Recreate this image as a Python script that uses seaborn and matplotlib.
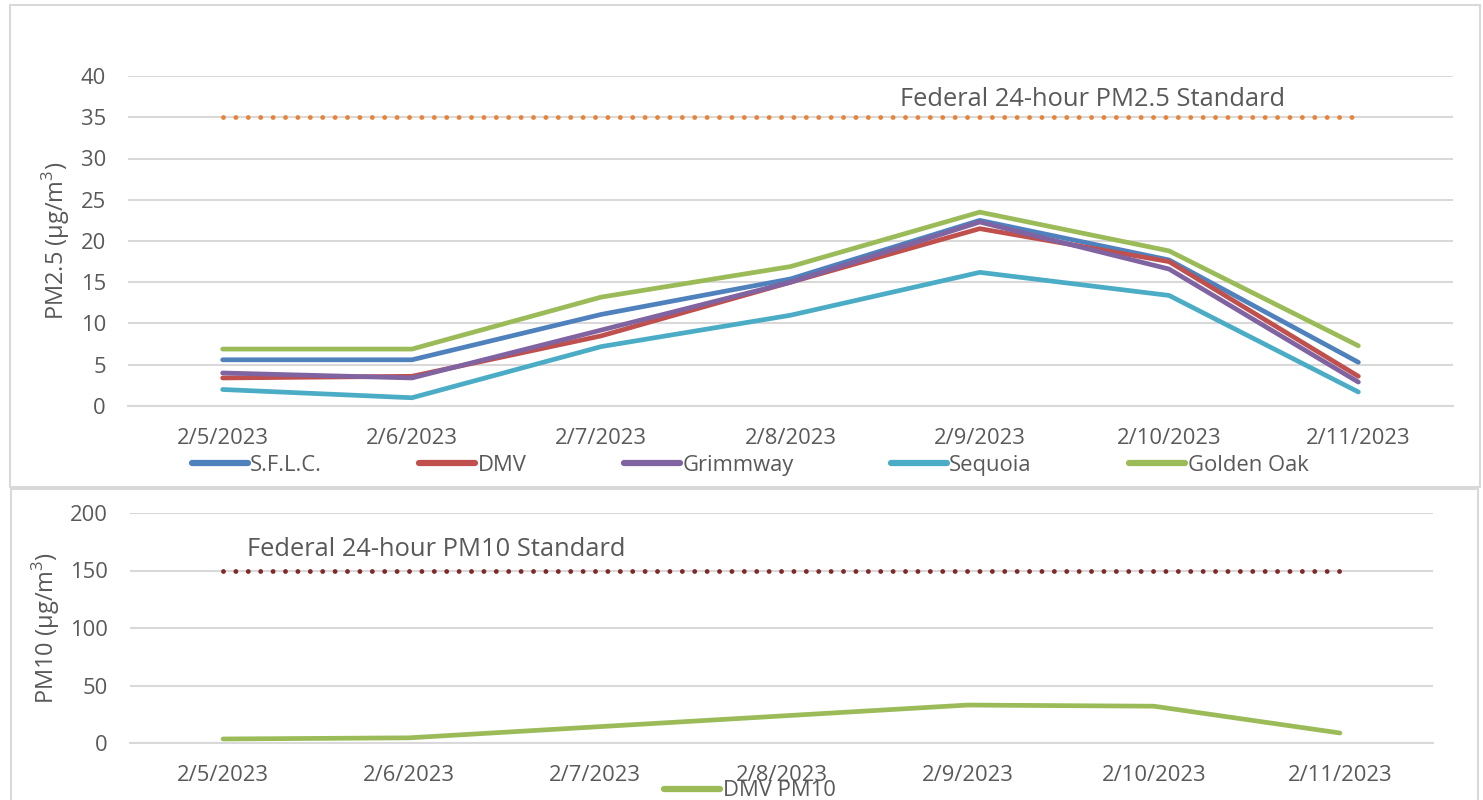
import matplotlib
matplotlib.use('Agg')
import matplotlib.pyplot as plt
import numpy as np
import pandas as pd
import seaborn as sns
from matplotlib.lines import Line2D
from matplotlib.patches import Rectangle

DATES = ['2/5/2023', '2/6/2023', '2/7/2023', '2/8/2023', '2/9/2023', '2/10/2023', '2/11/2023']
SITES = ['S.F.L.C.', 'DMV', 'Grimmway', 'Sequoia', 'Golden Oak']
SFLC = [5.6, 5.6, 11.1, 15.4, 22.5, 17.7, 5.3]
DMV = [3.4, 3.6, 8.5, 15.0, 21.5, 17.5, 3.6]
GRIMMWAY = [4.0, 3.4, 9.2, 15.0, 22.3, 16.6, 2.9]
SEQUOIA = [2.0, 1.0, 7.2, 11.0, 16.2, 13.4, 1.7]
GOLDEN_OAK = [6.9, 6.9, 13.2, 16.9, 23.5, 18.8, 7.3]
DMV_PM10 = [3.5, 4.5, 14.0, 23.5, 33.0, 32.0, 8.7]
PM25_STANDARD = 35
PM10_STANDARD = 150
PM25_TICKS = [0, 5, 10, 15, 20, 25, 30, 35, 40]
PM10_TICKS = [0, 50, 100, 150, 200]

SITE_COLORS = {'S.F.L.C.': '#4F81BD', 'DMV': '#C0504D', 'Grimmway': '#8064A2',
               'Sequoia': '#4BACC6', 'Golden Oak': '#9BBB59'}
TEXT = '#595959'
GRID = '#D9D9D9'
FS = 15.8
W, H = 1483, 800


def style_axis(ax, ticks, n):
    ax.set_xlim(-0.5, n - 0.5)
    ax.set_ylim(ticks[0], ticks[-1])
    ax.set_yticks(ticks)
    ax.set_xticks(range(n))
    ax.set_xticklabels(DATES)
    ax.set_xticks(np.arange(n + 1) - 0.5, minor=True)
    ax.tick_params(axis='x', which='major', length=0, pad=16, labelsize=FS, labelcolor=TEXT)
    ax.tick_params(axis='x', which='minor', length=5, color=GRID, width=1.5)
    ax.tick_params(axis='y', length=0, pad=16, labelsize=FS, labelcolor=TEXT)
    ax.grid(axis='y', color=GRID, lw=1.5)
    ax.grid(axis='x', visible=False)
    for side in ['top', 'right', 'left']:
        ax.spines[side].set_visible(False)
    ax.spines['bottom'].set_color(GRID)
    ax.spines['bottom'].set_linewidth(1.5)
    ax.set_xlabel('')
    ax.set_axisbelow(True)


def main() -> None:
    sns.set_theme(style='white')
    plt.rcParams['font.family'] = ['Open Sans', 'DejaVu Sans']
    plt.rcParams['mathtext.fontset'] = 'custom'
    plt.rcParams['mathtext.rm'] = 'Open Sans'

    n = len(DATES)
    pm25 = pd.DataFrame({
        'pos': list(range(n)) * len(SITES),
        'site': np.repeat(SITES, n),
        'value': SFLC + DMV + GRIMMWAY + SEQUOIA + GOLDEN_OAK,
    })
    pm10 = pd.DataFrame({'pos': range(n), 'value': DMV_PM10})

    fig = plt.figure(figsize=(W / 100, H / 100), dpi=100)

    # panel frames
    fig.patches.append(Rectangle((10 / W, 1 - 487 / H), 1470 / W, 482 / H, transform=fig.transFigure,
                                 fill=False, ec=GRID, lw=1.5))
    fig.patches.append(Rectangle((11 / W, -0.02), 1467 / W, 1 - 489 / H + 0.02, transform=fig.transFigure,
                                 fill=False, ec=GRID, lw=1.5))

    # top: PM2.5
    ax1 = fig.add_axes([128 / W, 1 - 406 / H, 1325 / W, 330 / H])
    sns.lineplot(data=pm25, x='pos', y='value', hue='site', hue_order=SITES, palette=SITE_COLORS,
                 lw=3.4, ax=ax1, legend=False, sort=False, solid_capstyle='round', solid_joinstyle='round')
    ax1.plot([0, n - 1.0], [PM25_STANDARD] * 2, color='#E8833A', lw=3.5,
             ls=(0, (0.001, 2.55)), dash_capstyle='round')
    ax1.text(3.58, 37.1, 'Federal 24-hour PM2.5 Standard', fontsize=18.4, color=TEXT, va='center', ha='left')
    style_axis(ax1, PM25_TICKS, n)
    ax1.set_ylabel(r'PM2.5 (µg/m$^{\mathrm{3}}$)', fontsize=17, color=TEXT)
    ax1.yaxis.set_label_coords(-0.042, 0.5)

    handles = [Line2D([], [], color=SITE_COLORS[s], lw=4.5, solid_capstyle='round') for s in SITES]
    fig.legend(handles, SITES, loc='center', bbox_to_anchor=(750 / W, 1 - 465 / H), ncol=5,
               frameon=False, fontsize=FS, labelcolor=TEXT, handlelength=2.55, handletextpad=0.1,
               columnspacing=4.45)

    # bottom: PM10
    ax2 = fig.add_axes([130 / W, 1 - 743 / H, 1303 / W, 230 / H])
    sns.lineplot(data=pm10, x='pos', y='value', color=SITE_COLORS['Golden Oak'], lw=3.4, ax=ax2,
                 sort=False, solid_capstyle='round')
    ax2.plot([0, n - 1.0], [PM10_STANDARD] * 2, color='#7F2A2A', lw=3.5,
             ls=(0, (0.001, 2.55)), dash_capstyle='round')
    ax2.text(0.13, 168, 'Federal 24-hour PM10 Standard', fontsize=18.4, color=TEXT, va='center', ha='left')
    style_axis(ax2, PM10_TICKS, n)
    ax2.set_ylabel(r'PM10 (µg/m$^{\mathrm{3}}$)', fontsize=17, color=TEXT)
    ax2.yaxis.set_label_coords(-0.052, 0.5)

    fig.legend([Line2D([], [], color=SITE_COLORS['Golden Oak'], lw=4.5, solid_capstyle='round')], ['DMV PM10'],
               loc='center', bbox_to_anchor=(750 / W, 1 - 791 / H), frameon=False, fontsize=FS,
               labelcolor=TEXT, handlelength=2.55, handletextpad=0.1)

    fig.savefig('out.png', dpi=100)
    plt.close(fig)


if __name__ == '__main__':
    main()
